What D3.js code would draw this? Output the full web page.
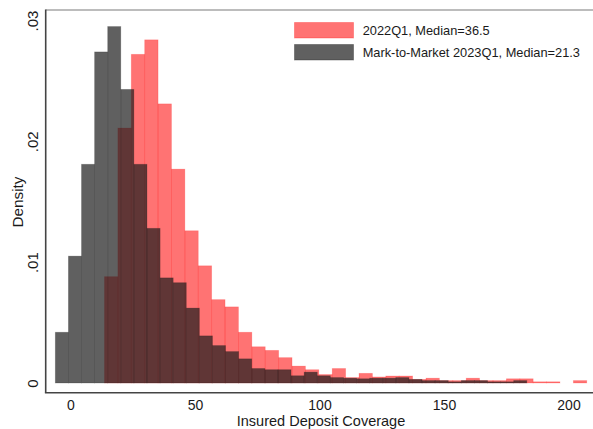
<!DOCTYPE html>
<html lang="en">
    <head>
        <meta charset="utf-8">
        <title>Insured Deposit Coverage</title>
        <script src="https://d3js.org/d3.v7.min.js"></script>
        <style type="text/css">
            body { margin: 0; background: #fff; }
            svg { font-family: "Liberation Sans", Arial, sans-serif; }
        </style>
    </head>
    <body>
        <script type="text/javascript">

        // Data (density per bin)

        const xTicks = [0, 50, 100, 150, 200];
        const yTicks = [0, 0.01, 0.02, 0.03];
        const yTickLabels = ["0", ".01", ".02", ".03"];

        const seriesNames = ["2022Q1, Median=36.5", "Mark-to-Market 2023Q1, Median=21.3"];

        // 2022Q1 bins
        const redStart = 13.65;
        const redWidth = 5.38;
        const redDensity = [
            0.0088, 0.0211, 0.0272, 0.0284, 0.0231, 0.0177, 0.0126, 0.0097,
            0.0069, 0.0063, 0.0042, 0.0030, 0.0027, 0.0021, 0.0014, 0.0011,
            0.0007, 0.0012, 0.00045, 0.0008, 0.0005, 0.00058, 0.00058, 0.0003,
            0.0004, 0.0002, 0.0002, 0.0004, 0.0002, 0.0002, 0.00035, 0.00035,
            0.0001, 0.0001, 0, 0.0002
        ];

        // Mark-to-Market 2023Q1 bins
        const grayStart = -6.1;
        const grayWidth = 5.26;
        const grayDensity = [
            0.0042, 0.0105, 0.0181, 0.0274, 0.0295, 0.0243, 0.0181, 0.0128,
            0.0087, 0.0083, 0.0062, 0.0039, 0.0031, 0.0026, 0.0020, 0.0012,
            0.0011, 0.0011, 0.0006, 0.0009, 0.0006, 0.00045, 0.0004, 0.00035,
            0.0004, 0.0004, 0.00045, 0.0003, 0.0002, 0.0002, 0.0001, 0.0002,
            0.0002, 0.0001, 0.0001, 0.0002
        ];

        // Constants

        const w = 593;
        const h = 429;
        const plotLeft = 45.7;
        const plotTop = 10;
        const plotBottom = 392.7;

        const redFill = "rgba(255, 0, 0, 0.55)";
        const grayFill = "rgba(28, 28, 28, 0.7)";

        const svg = d3.select("body")
                      .append("svg")
                      .attr("width", w)
                      .attr("height", h);

        const xScale = d3.scaleLinear()
                         .domain([0, 200])
                         .range([70.5, 568.5]);

        const yScale = d3.scaleLinear()
                         .domain([0, 0.03])
                         .range([383, 20.5]);

        const toBins = (start, width, vals) => vals.map((v, i) => ({
            x0: start + i * width,
            x1: start + (i + 1) * width,
            v: v
        }));

        // Bars: 2022Q1 first, mark-to-market drawn on top
        [[toBins(redStart, redWidth, redDensity), redFill, "red"],
         [toBins(grayStart, grayWidth, grayDensity), grayFill, "gray"]].forEach(([bins, fill, cls]) => {
            svg.append("g")
               .attr("class", cls)
               .selectAll("rect")
               .data(bins.filter(d => d.v > 0))
               .enter()
               .append("rect")
               .attr("x", d => xScale(d.x0))
               .attr("y", d => yScale(d.v))
               .attr("width", d => xScale(d.x1) - xScale(d.x0))
               .attr("height", d => yScale(0) - yScale(d.v))
               .attr("fill", fill)
               .attr("stroke", fill)
               .attr("stroke-opacity", 0.35)
               .attr("stroke-width", 0.8);
        });

        // Frame
        svg.append("line")
           .attr("x1", plotLeft).attr("x2", w)
           .attr("y1", plotTop).attr("y2", plotTop)
           .attr("stroke", "#7a7a7a").attr("stroke-width", 1.2);
        svg.append("line")
           .attr("x1", plotLeft).attr("x2", plotLeft)
           .attr("y1", plotTop - 0.6).attr("y2", plotBottom)
           .attr("stroke", "#444").attr("stroke-width", 1.6);
        svg.append("line")
           .attr("x1", plotLeft - 0.8).attr("x2", w)
           .attr("y1", plotBottom).attr("y2", plotBottom)
           .attr("stroke", "#444").attr("stroke-width", 1.6);

        // Bottom axis
        const xAxis = d3.axisBottom(xScale)
                        .tickValues(xTicks)
                        .tickSize(0)
                        .tickFormat(d3.format("d"));
        const gx = svg.append("g")
                      .attr("transform", "translate(0," + plotBottom + ")")
                      .call(xAxis);
        gx.select(".domain").remove();
        gx.selectAll("text")
          .attr("y", 17)
          .attr("dy", null)
          .attr("font-size", "14px")
          .attr("fill", "#1a1a1a");
        gx.attr("font-family", null);

        // Left axis
        const yAxis = d3.axisLeft(yScale)
                        .tickValues(yTicks)
                        .tickSize(0)
                        .tickFormat((d, i) => yTickLabels[i]);
        const gy = svg.append("g")
                      .attr("transform", "translate(" + plotLeft + ",0)")
                      .call(yAxis);
        gy.select(".domain").remove();
        gy.attr("font-family", null);
        gy.selectAll("text")
          .attr("x", 0)
          .attr("dy", null)
          .attr("text-anchor", "middle")
          .attr("transform", "translate(-7.3,0) rotate(-90)")
          .attr("font-size", "15px")
          .attr("fill", "#1a1a1a");

        // Axis titles
        svg.append("text")
           .attr("x", 321)
           .attr("y", 425.9)
           .attr("text-anchor", "middle")
           .attr("font-size", "14.5px")
           .attr("fill", "#1a1a1a")
           .text("Insured Deposit Coverage");

        svg.append("text")
           .attr("transform", "translate(22.5,202) rotate(-90)")
           .attr("text-anchor", "middle")
           .attr("font-size", "15.3px")
           .attr("fill", "#1a1a1a")
           .text("Density");

        // Legend
        const legend = svg.append("g");
        [redFill, grayFill].forEach((fill, i) => {
            legend.append("rect")
                  .attr("x", 294.5)
                  .attr("y", 22.5 + i * 22)
                  .attr("width", 59)
                  .attr("height", 15.5)
                  .attr("fill", fill)
                  .attr("stroke", fill)
                  .attr("stroke-opacity", 0.5);
            legend.append("text")
                  .attr("x", 362.7)
                  .attr("y", 34.8 + i * 22)
                  .attr("font-size", "12.8px")
                  .attr("fill", "#1a1a1a")
                  .text(seriesNames[i]);
        });

        </script>
    </body>
</html>
